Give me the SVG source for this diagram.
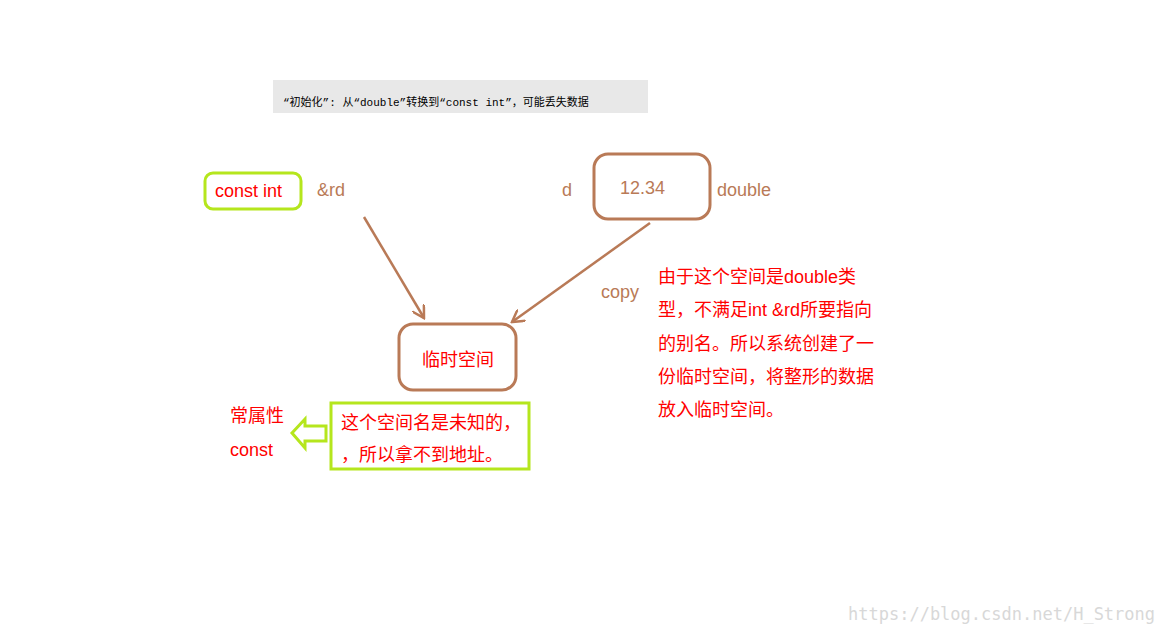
<svg xmlns="http://www.w3.org/2000/svg" width="1159" height="633" viewBox="0 0 1159 633">
<style>
.r{fill:#ff0000;font-family:"Liberation Sans","Noto Sans CJK SC",sans-serif;font-size:18px}
.b{fill:#b97a57;font-family:"Liberation Sans","Noto Sans CJK SC",sans-serif;font-size:18px}
.box{fill:none;stroke:#b97a57;stroke-width:3}
.g{fill:none;stroke:#b5e61d;stroke-width:3}
</style>
<defs><marker id="a" markerWidth="14" markerHeight="14" refX="12" refY="7" orient="auto" markerUnits="userSpaceOnUse"><path d="M0,0 L12,7 L0,14" fill="none" stroke="#b97a57" stroke-width="2.5"/></marker></defs>
<rect width="1159" height="633" fill="#fff"/>
<g id="title"><rect x="273" y="80" width="375" height="33" fill="#e8e8e8"/><text x="283" y="106" font-family="'Liberation Mono','Noto Sans CJK SC',monospace" font-size="11" fill="#000">“初始化”: 从“double”转换到“const int”，可能丢失数据</text></g>
<g id="constint"><rect x="205" y="173" width="96" height="36" rx="8" class="g"/><text x="215" y="197" class="r">const int</text></g>
<text x="317" y="196" class="b">&amp;rd</text>
<text x="562" y="196" class="b">d</text>
<g id="d"><rect x="594" y="154" width="116" height="65" rx="14" class="box"/><text x="620" y="194" class="b" fill="#b97a57" style="fill:#b97a57">12.34</text></g>
<text x="717" y="196" class="b">double</text>
<text x="601" y="298" class="b">copy</text>
<g id="tmp"><rect x="399" y="324" width="117" height="66" rx="14" class="box"/><text x="422" y="366" class="r">临时空间</text></g>
<g id="edges" stroke="#b97a57" stroke-width="2.5" fill="none"><path d="M364,217 L424,318" marker-end="url(#a)"/><path d="M650,223 L512,322" marker-end="url(#a)"/></g>
<g id="note"><text class="r"><tspan x="658" y="283">由于这个空间是double类</tspan><tspan x="658" y="316">型，不满足int &amp;rd所要指向</tspan><tspan x="658" y="350">的别名。所以系统创建了一</tspan><tspan x="658" y="383">份临时空间，将整形的数据</tspan><tspan x="658" y="416">放入临时空间。</tspan></text></g>
<g id="unk"><rect x="331" y="403" width="198" height="66" class="g"/><text class="r"><tspan x="341" y="429">这个空间名是未知的，</tspan><tspan x="341" y="461">，所以拿不到地址。</tspan></text></g>
<polygon points="292,433 305,419 305,426 326,426 326,441 305,441 305,448" fill="none" stroke="#b5e61d" stroke-width="3"/>
<g id="attr"><text class="r"><tspan x="230" y="422">常属性</tspan><tspan x="230" y="456">const</tspan></text></g>
<text x="848" y="620" font-family="'DejaVu Sans Mono',monospace" font-size="17" fill="#d8d8d8">https://blog.csdn.net/H_Strong</text>
</svg>
